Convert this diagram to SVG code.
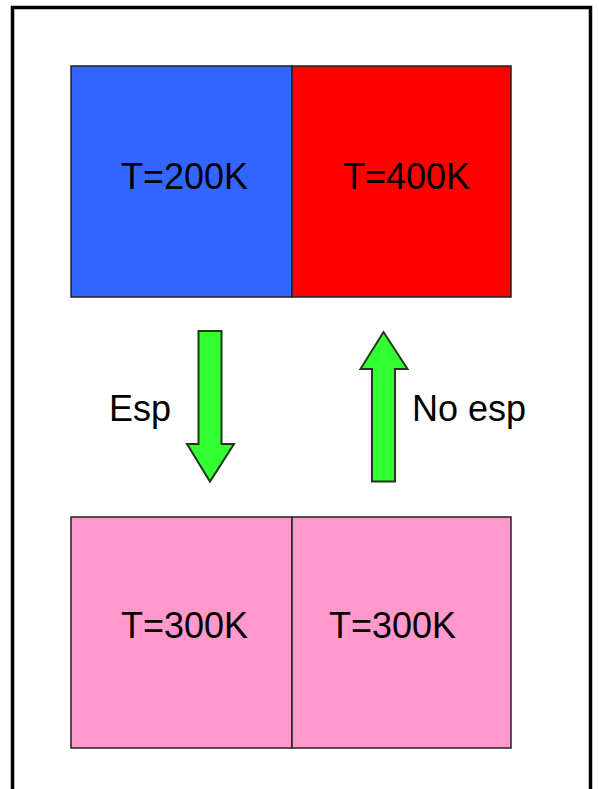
<svg xmlns="http://www.w3.org/2000/svg" width="599" height="789" viewBox="0 0 599 789">
<style>
.box{stroke:#222;stroke-width:1.5}
.lbl{font-family:"Liberation Sans",Arial,sans-serif;font-size:36px;fill:#000}
.arr{fill:#33ff33;stroke:#1a3a1a;stroke-width:2;stroke-linejoin:miter}
</style>
<rect x="0" y="0" width="599" height="789" fill="#fff"/>
<rect x="12.5" y="7.5" width="578" height="800" fill="none" stroke="#000" stroke-width="3.5"/>
<g id="cold">
<rect class="box" x="71" y="66" width="221" height="231" fill="#3366ff"/>
<text class="lbl" x="121" y="189">T=200K</text>
</g>
<g id="hot">
<rect class="box" x="292" y="66" width="219" height="231" fill="#ff0000"/>
<text class="lbl" x="343" y="189">T=400K</text>
</g>
<g id="eqLeft">
<rect class="box" x="71" y="517" width="221" height="231" fill="#ff99cc"/>
<text class="lbl" x="121" y="638">T=300K</text>
</g>
<g id="eqRight">
<rect class="box" x="292" y="517" width="219" height="231" fill="#ff99cc"/>
<text class="lbl" x="329" y="638">T=300K</text>
</g>
<g id="connectors">
<g id="down">
<polygon class="arr" points="198.5,331 221.5,331 221.5,444 234,444 210,481.5 187,444 198.5,444"/>
<text class="lbl" x="109" y="421">Esp</text>
</g>
<g id="up">
<polygon class="arr" points="383.5,332 407.5,369 395,369 395,481.5 372,481.5 372,369 360.5,369"/>
<text class="lbl" x="412" y="421">No esp</text>
</g>
</g>
</svg>
